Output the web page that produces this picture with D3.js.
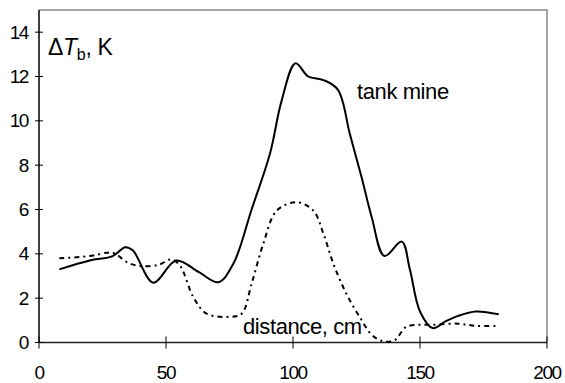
<!DOCTYPE html>
<html>
<head>
<meta charset="utf-8">
<script src="https://cdn.jsdelivr.net/npm/d3@7"></script>
<style>
  body { margin: 0; background: #fff; }
  text { font-family: "Liberation Sans", Arial, sans-serif; }
</style>
</head>
<body>
<div id="chart"></div>
<script>
// tank mine (solid)
const tankX = [8, 20, 29, 34, 37, 45, 54, 63, 70.6, 76.5, 83.7, 91, 95.5, 101, 106, 112, 117.7, 122.4, 127, 131, 136, 142.8, 146, 150, 155, 160, 165, 172, 181];
const tankY = [3.3, 3.7, 3.9, 4.3, 4.15, 2.7, 3.7, 3.17, 2.72, 3.55, 6, 8.55, 10.9, 12.6, 12.0, 11.84, 11.4, 9.4, 7.45, 5.65, 3.9, 4.55, 3.3, 1.4, 0.65, 0.95, 1.2, 1.4, 1.27];
// distance (dashed)
const distX = [8, 20, 27, 30, 35, 40, 47, 52, 55.5, 60.8, 66, 75.2, 79.8, 83.7, 88.3, 93.6, 101.5, 108, 112, 115.9, 121, 126, 131, 135.5, 140, 144.5, 150, 155, 165, 172, 181];
const distY = [3.8, 3.9, 4.05, 4.0, 3.6, 3.45, 3.5, 3.75, 3.47, 2.04, 1.3, 1.16, 1.3, 2.65, 4.45, 5.95, 6.33, 5.95, 4.9, 3.55, 2.2, 1.2, 0.35, 0.05, 0.1, 0.7, 0.8, 0.8, 0.85, 0.75, 0.75];
const xTicks = [0, 50, 100, 150, 200];
const yTicks = [0, 2, 4, 6, 8, 10, 12, 14];

const width = 565, height = 383;
const x = d3.scaleLinear().domain([0, 200]).range([39, 547]);
const y = d3.scaleLinear().domain([0, 15]).range([342.5, 10]);

const svg = d3.select("#chart").append("svg")
  .attr("width", width)
  .attr("height", height);

// frame (grey top / right)
svg.append("path")
  .attr("d", `M${x(0)},${y(15)}H${x(200)}V${y(0)}`)
  .attr("fill", "none")
  .attr("stroke", "#888")
  .attr("stroke-width", 1.5);

// axes
svg.append("line")
  .attr("x1", x(0)).attr("x2", x(0))
  .attr("y1", y(15)).attr("y2", y(0))
  .attr("stroke", "#000").attr("stroke-width", 1.5);
svg.append("line")
  .attr("x1", x(0)).attr("x2", x(200))
  .attr("y1", y(0)).attr("y2", y(0))
  .attr("stroke", "#222").attr("stroke-width", 1.5);

svg.append("g").selectAll("line")
  .data(yTicks).join("line")
  .attr("x1", x(0) - 4).attr("x2", x(0) + 4)
  .attr("y1", d => y(d)).attr("y2", d => y(d))
  .attr("stroke", "#000");

svg.append("g").selectAll("text")
  .data(yTicks).join("text")
  .attr("x", 28)
  .attr("y", d => y(d) + 6.5)
  .attr("text-anchor", "end")
  .attr("font-size", "19px")
  .attr("letter-spacing", "-1.4px")
  .text(d => d);

svg.append("g").selectAll("line")
  .data(xTicks).join("line")
  .attr("x1", d => x(d)).attr("x2", d => x(d))
  .attr("y1", y(0) - 6).attr("y2", y(0) + 6)
  .attr("stroke", "#000");

svg.append("g").selectAll("text")
  .data(xTicks).join("text")
  .attr("x", d => x(d))
  .attr("y", 379)
  .attr("text-anchor", "middle")
  .attr("font-size", "19px")
  .attr("letter-spacing", "-1.4px")
  .text(d => d);

const line = d3.line()
  .x(d => x(d[0]))
  .y(d => y(d[1]))
  .curve(d3.curveCatmullRom.alpha(0.5));

svg.append("path")
  .datum(tankX.map((v, i) => [v, tankY[i]]))
  .attr("d", line)
  .attr("fill", "none")
  .attr("stroke", "#000")
  .attr("stroke-width", 2);

svg.append("path")
  .datum(distX.map((v, i) => [v, distY[i]]))
  .attr("d", line)
  .attr("fill", "none")
  .attr("stroke", "#000")
  .attr("stroke-width", 2)
  .attr("stroke-dasharray", "5,4,2,4");

// labels
const yLab = svg.append("text")
  .attr("x", 48).attr("y", 55)
  .attr("font-size", "23px")
  .attr("letter-spacing", "-0.3px");
yLab.append("tspan").text("Δ");
yLab.append("tspan").attr("font-style", "italic").text("T");
yLab.append("tspan").attr("font-size", "16px").attr("dy", 5).text("b");
yLab.append("tspan").attr("dy", -5).text(", K");

svg.append("text")
  .attr("x", 357).attr("y", 99)
  .attr("font-size", "22px")
  .attr("letter-spacing", "-0.4px")
  .text("tank mine");

svg.append("text")
  .attr("x", 243).attr("y", 334)
  .attr("font-size", "22px")
  .attr("letter-spacing", "-0.4px")
  .text("distance, cm");
</script>
</body>
</html>
